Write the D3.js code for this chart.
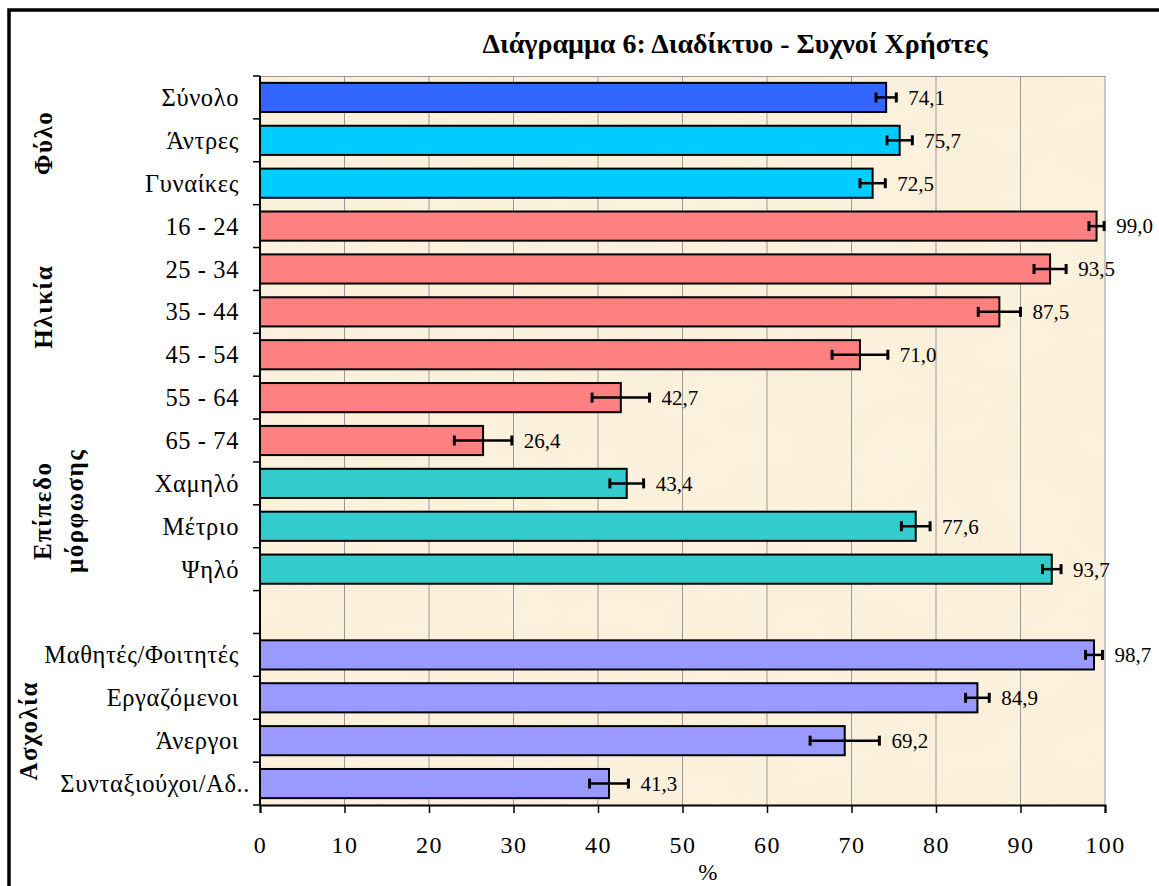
<!DOCTYPE html>
<html>
<head>
<meta charset="utf-8">
<script src="https://cdn.jsdelivr.net/npm/d3@7"></script>
<style>
  body { margin: 0; background: #fff; }
  svg text { font-family: "Liberation Serif", "Times New Roman", serif !important; fill: #000; }
</style>
</head>
<body>
<svg id="chart"></svg>
<script>
// categories top to bottom, "" is the empty row between education and occupation
var categories = ["Σύνολο", "Άντρες", "Γυναίκες", "16 - 24", "25 - 34", "35 - 44", "45 - 54", "55 - 64", "65 - 74",
                  "Χαμηλό", "Μέτριο", "Ψηλό", "", "Μαθητές/Φοιτητές", "Εργαζόμενοι", "Άνεργοι", "Συνταξιούχοι/Αδ.."]
var values = [74.1, 75.7, 72.5, 99.0, 93.5, 87.5, 71.0, 42.7, 26.4, 43.4, 77.6, 93.7, null, 98.7, 84.9, 69.2, 41.3]
var errors = [1.2, 1.5, 1.5, 0.9, 1.9, 2.5, 3.3, 3.4, 3.4, 2.0, 1.7, 1.1, null, 1.0, 1.4, 4.1, 2.3]
var groups = ["total", "sex", "sex", "age", "age", "age", "age", "age", "age",
              "edu", "edu", "edu", null, "occ", "occ", "occ", "occ"]
var xTicks = [0, 10, 20, 30, 40, 50, 60, 70, 80, 90, 100]
var title = "Διάγραμμα 6: Διαδίκτυο - Συχνοί Χρήστες"

var colors = {total: "#3366ff", sex: "#00ccff", age: "#ff8080", edu: "#33cccc", occ: "#9999ff"}

var W = 1159, H = 886
var margin = {top: 76, right: 54, bottom: 81, left: 260},
    width  = W - margin.left - margin.right,
    height = H - margin.top - margin.bottom;

var svg = d3.select("#chart").attr("width", W).attr("height", H)

// parchment texture for the plot area
var defs = svg.append("defs")
var f = defs.append("filter").attr("id", "paper").attr("x", 0).attr("y", 0).attr("width", 1).attr("height", 1)
f.append("feTurbulence").attr("type", "fractalNoise").attr("baseFrequency", "0.012 0.02").attr("numOctaves", 3).attr("seed", 4).attr("result", "noise")
f.append("feColorMatrix").attr("in", "noise").attr("type", "matrix")
  .attr("values", "0 0 0 0 0.97  0 0 0 0 0.91  0 0 0 0 0.78  0 0 0 0.6 -0.05").attr("result", "tint")
f.append("feComposite").attr("in", "tint").attr("in2", "SourceGraphic").attr("operator", "in")

// outer frame
svg.append("rect").attr("x", 9).attr("y", 10).attr("width", W + 20).attr("height", H + 20)
  .attr("fill", "none").attr("stroke", "#000").attr("stroke-width", 3.5)

var g = svg.append("g").attr("transform", "translate(" + margin.left + "," + margin.top + ")")

var x = d3.scaleLinear().domain([0, 100]).range([0, width])
var y = d3.scaleBand().domain(d3.range(categories.length)).range([0, height]).paddingInner(0.32).paddingOuter(0.16)
var step = height / categories.length

g.append("rect").attr("width", width).attr("height", height).attr("fill", "#fbefd8")
g.append("rect").attr("width", width).attr("height", height).attr("fill", "#f5e2bd").attr("filter", "url(#paper)")

// grid lines
g.selectAll(".grid").data(xTicks.slice(1)).enter().append("line")
  .attr("x1", function(d) { return x(d) }).attr("x2", function(d) { return x(d) })
  .attr("y1", 0).attr("y2", height)
  .attr("stroke", "#999").attr("stroke-width", 1)
g.append("line").attr("x1", 0).attr("x2", width).attr("y1", 0.5).attr("y2", 0.5).attr("stroke", "#999")

// title
svg.append("text").attr("x", 735).attr("y", 53).attr("text-anchor", "middle")
  .style("font-size", "28px").style("font-weight", "bold").text(title)

// bars
var rows = d3.range(categories.length).filter(function(i) { return values[i] != null })
g.selectAll(".bar").data(rows).enter().append("rect")
  .attr("x", 0).attr("y", function(i) { return y(i) })
  .attr("width", function(i) { return x(values[i]) }).attr("height", y.bandwidth())
  .attr("fill", function(i) { return colors[groups[i]] })
  .attr("stroke", "#000").attr("stroke-width", 2)

// error bars
var eb = g.selectAll(".err").data(rows).enter().append("g")
  .attr("transform", function(i) { return "translate(0," + (y(i) + y.bandwidth() / 2) + ")" })
eb.append("line")
  .attr("x1", function(i) { return x(values[i] - errors[i]) }).attr("x2", function(i) { return x(values[i] + errors[i]) })
  .attr("stroke", "#000").attr("stroke-width", 2.5)
eb.each(function(i) {
  var s = d3.select(this)
  ;[values[i] - errors[i], values[i] + errors[i]].forEach(function(v) {
    s.append("line").attr("x1", x(v)).attr("x2", x(v)).attr("y1", -5).attr("y2", 5)
      .attr("stroke", "#000").attr("stroke-width", 3)
  })
})

// value labels
eb.append("text")
  .attr("x", function(i) { return x(values[i] + errors[i]) + 12 })
  .attr("dy", "0.35em")
  .style("font-size", "21px")
  .text(function(i) { return d3.format(".1f")(values[i]).replace(".", ",") })

// y axis: ticks between rows, category labels
var yb = g.append("g")
yb.append("line").attr("x1", 0).attr("x2", 0).attr("y1", 0).attr("y2", height).attr("stroke", "#000").attr("stroke-width", 2)
yb.selectAll(".yt").data(d3.range(categories.length + 1)).enter().append("line")
  .attr("x1", -7).attr("x2", 0)
  .attr("y1", function(k) { return k * step }).attr("y2", function(k) { return k * step })
  .attr("stroke", "#000").attr("stroke-width", 1.5)
yb.selectAll(".yl").data(d3.range(categories.length)).enter().append("text")
  .attr("x", function(i) { return categories[i].slice(-2) === ".." ? -10 : -21 })
  .attr("y", function(i) { return (i + 0.5) * step }).attr("dy", "0.35em")
  .attr("text-anchor", "end").style("font-size", "24.5px").style("letter-spacing", "0.6px")
  .text(function(i) { return categories[i] })

// x axis
var xa = g.append("g").attr("transform", "translate(0," + height + ")")
  .call(d3.axisBottom(x).tickValues(xTicks).tickSize(8).tickPadding(23).tickFormat(d3.format("d")))
xa.select(".domain").attr("stroke-width", 2)
xa.selectAll(".tick line").attr("stroke-width", 1.5)
xa.selectAll("text").style("font-size", "24px").style("letter-spacing", "1.5px")

g.append("text").attr("x", x(53)).attr("y", height + 75).attr("text-anchor", "middle")
  .style("font-size", "23px").text("%")

// group labels, rotated
var groupLabels = [
  {lines: ["Φύλο"], at: 1.56, x: 52},
  {lines: ["Ηλικία"], at: 5.38, x: 52},
  {lines: ["Επίπεδο", "μόρφωσης"], at: 10.14, x: 51},
  {lines: ["Ασχολία"], at: 15.27, x: 37}
]
groupLabels.forEach(function(d) {
  var t = svg.append("text")
    .attr("transform", "translate(" + d.x + "," + (margin.top + d.at * step) + ") rotate(-90)")
    .attr("text-anchor", "middle").style("font-size", "25px").style("font-weight", "bold").style("letter-spacing", "1.5px")
  d.lines.forEach(function(l, k) {
    t.append("tspan").attr("x", 0).attr("dy", k === 0 ? 0 : 32).text(l)
  })
})
</script>
</body>
</html>
